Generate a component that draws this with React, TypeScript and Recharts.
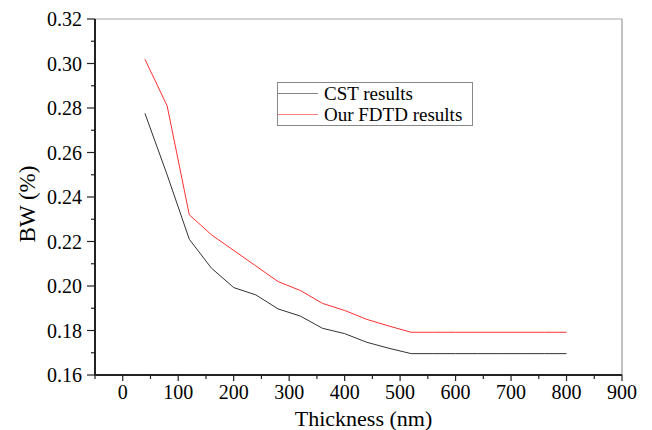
import React from "react";
import { LineChart, Line, XAxis, YAxis, ReferenceLine, Legend } from "recharts";

const thickness = [40, 80, 120, 160, 200, 240, 280, 320, 360, 400, 440, 480, 520, 560, 600, 640, 680, 720, 760, 800];
const cstResults = [0.2776, 0.25, 0.221, 0.208, 0.1993, 0.196, 0.1897, 0.1865, 0.181, 0.1786, 0.1747, 0.172, 0.1696, 0.1696, 0.1696, 0.1696, 0.1696, 0.1696, 0.1696, 0.1696];
const fdtdResults = [0.3019, 0.281, 0.232, 0.223, 0.216, 0.209, 0.202, 0.198, 0.1922, 0.189, 0.185, 0.182, 0.1792, 0.1792, 0.1792, 0.1792, 0.1792, 0.1792, 0.1792, 0.1792];

const xTicks: number[] = [];
for (let i = -1; i <= 18; i++) xTicks.push(i * 50);
const yTicks: number[] = [];
for (let i = 16; i <= 32; i++) yTicks.push(i / 100);

const data = thickness.map((t, i) => ({ t, cst: cstResults[i], fdtd: fdtdResults[i] }));

const FONT = "Liberation Serif";

const XTick = (props: any) => {
  const { x, y, payload } = props;
  const v = payload.value;
  const major = Math.round(v) % 100 === 0;
  return (
    <g>
      <line x1={x} y1={y} x2={x} y2={y + (major ? 6 : 4)} stroke="#222" strokeWidth={1.2} />
      {major && (
        <text x={x} y={y + 24} textAnchor="middle" style={{ fontFamily: FONT, fontSize: 20 }} fill="#000">
          {v}
        </text>
      )}
    </g>
  );
};

const YTick = (props: any) => {
  const { x, y, payload } = props;
  const v = payload.value;
  const major = Math.round(v * 100) % 2 === 0;
  return (
    <g>
      <line x1={x - (major ? 8 : 4)} y1={y} x2={x} y2={y} stroke="#222" strokeWidth={1.2} />
      {major && (
        <text x={x - 13} y={y} dy="0.35em" textAnchor="end" style={{ fontFamily: FONT, fontSize: 20 }} fill="#000">
          {v.toFixed(2)}
        </text>
      )}
    </g>
  );
};

const LegendBox = (props: any) => {
  const { payload } = props;
  return (
    <div
      style={{
        border: "1px solid #888",
        width: 196,
        height: 44,
        boxSizing: "border-box",
        background: "#fff",
        fontFamily: FONT,
        fontSize: 19,
        color: "#000",
        lineHeight: "21px",
      }}
    >
      {(payload || []).map((p: any) => (
        <div key={p.value} style={{ display: "flex", alignItems: "center", height: 21 }}>
          <div style={{ width: 40, height: 0, borderTop: `1px solid ${p.color}`, opacity: 0.6, marginLeft: 0, marginRight: 6 }} />
          <span>{p.value}</span>
        </div>
      ))}
    </div>
  );
};

export default function App() {
  return (
    <div style={{ position: "absolute", left: 0, top: 0, background: "#fff" }}>
      <LineChart width={652} height={430} data={data} margin={{ top: 19, right: 30, bottom: 0, left: 0 }}>
        <ReferenceLine y={0.32} stroke="#c4c4c4" strokeWidth={1.5} />
        <ReferenceLine x={900} stroke="#999" strokeWidth={1.2} />
        <XAxis
          dataKey="t"
          type="number"
          domain={[-50, 900]}
          ticks={xTicks}
          interval={0}
          height={55}
          tickSize={0}
          tickMargin={0}
          tickLine={false}
          axisLine={{ stroke: "#222", strokeWidth: 2 }}
          tick={<XTick />}
          allowDataOverflow
          label={{ value: "Thickness (nm)", position: "insideBottom", offset: 4, dx: 5, style: { fontFamily: FONT, fontSize: 22, fill: "#000" } }}
        />
        <YAxis
          type="number"
          domain={[0.16, 0.32]}
          ticks={yTicks}
          interval={0}
          width={95}
          tickSize={0}
          tickMargin={0}
          tickLine={false}
          axisLine={{ stroke: "#222", strokeWidth: 2 }}
          tick={<YTick />}
          allowDataOverflow
          label={{ value: "BW (%)", angle: -90, position: "center", dx: -21, dy: 7, style: { fontFamily: FONT, fontSize: 23, fill: "#000", textAnchor: "middle" } }}
        />
        <Legend
          layout="horizontal"
          verticalAlign="middle"
          align="center"
          content={<LegendBox />}
          wrapperStyle={{ position: "absolute", left: 277, top: 82, width: 196, height: 44 }}
        />
        <Line type="linear" dataKey="cst" name="CST results" stroke="#333" strokeWidth={1} dot={false} isAnimationActive={false} />
        <Line type="linear" dataKey="fdtd" name="Our FDTD results" stroke="#ff3030" strokeWidth={1} dot={false} isAnimationActive={false} />
      </LineChart>
    </div>
  );
}
